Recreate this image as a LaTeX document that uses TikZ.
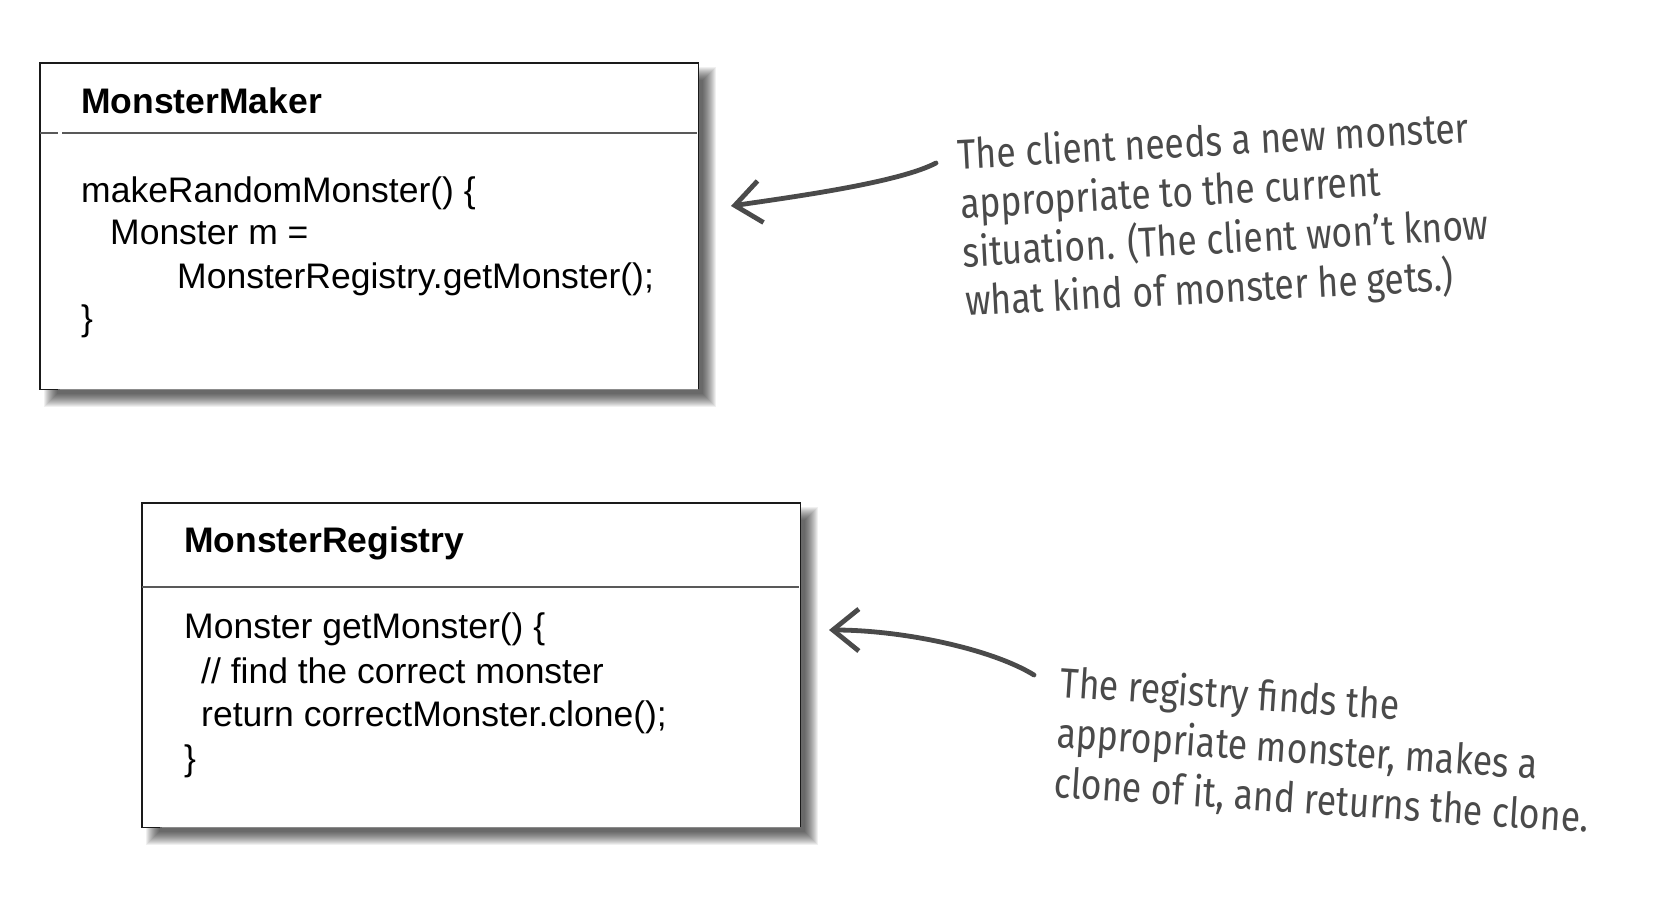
\documentclass[tikz,border=0pt]{standalone}
\usepackage{fontspec}
\setmainfont{Liberation Sans}
\newfontfamily\hand[FakeStretch=0.845]{Fira Sans}
\usetikzlibrary{arrows.meta,calc}
\definecolor{ink}{HTML}{4A4A4A}
\definecolor{edge}{HTML}{1A1A1A}
\tikzset{
 umlbox/.style={rectangle, fill=white, inner sep=0pt, anchor=north west},
 boxline/.style={draw=edge, line width=1.6pt},
 bottomline/.style={draw=black!45, line width=1.6pt},
 sepline/.style={draw=black!65, line width=1.4pt},
 code/.style={anchor=base west, inner sep=0pt, font=\fontsize{35.5}{42}\selectfont, text=black},
 title/.style={code, font=\fontsize{35.5}{42}\selectfont\bfseries},
 note/.style={anchor=base west, inner sep=0pt, align=left, text=ink},
 handarrow/.style={draw=ink, line width=4.8pt, line cap=round, line join=round, -{Straight Barb[length=26pt,width=42pt]}},
}
\begin{document}
\begin{tikzpicture}[x=1pt,y=-1pt]
\fill[white] (0,0) rectangle (1664,920);
\useasboundingbox (0,0) rectangle (1664,920);
% shadows
\foreach \r in {-6,...,7}{
  \fill[black, opacity=0.06] (40+11-\r,63+11-\r) rectangle (698+11+\r,389+11+\r);
  \fill[black, opacity=0.06] (142+11-\r,503+11-\r) rectangle (800+11+\r,827+11+\r);
}
% MonsterMaker box
\node[umlbox, minimum width=658pt, minimum height=326pt] (mm) at (40,63) {};
\draw[boxline] ($(mm.south west)+(18,0)$) -- (mm.south west) -- (mm.north west) -- (mm.north east) -- (mm.south east);
\draw[bottomline] ($(mm.south west)+(20,0)$) -- (mm.south east);
\draw[sepline] (40,133) -- (58,133) (62,133) -- (697,133);
\node[title] (mmt) at (81,114) {MonsterMaker};
\node[code] (mm1) at (81,202) {makeRandomMonster() \{};
\node[code] (mm2) at (110,244) {Monster m =};
\node[code] (mm3) at (177,288) {MonsterRegistry.getMonster();};
\node[code] (mm4) at (81,330) {\}};
% MonsterRegistry box
\node[umlbox, minimum width=658pt, minimum height=324pt] (mr) at (142,503) {};
\draw[boxline] ($(mr.south west)+(18,0)$) -- (mr.south west) -- (mr.north west) -- (mr.north east) -- (mr.south east);
\draw[bottomline] ($(mr.south west)+(20,0)$) -- (mr.south east);
\draw[sepline] (142,587) -- (799,587);
\node[title] (mrt) at (184,552) {MonsterRegistry};
\node[code] (mr1) at (184,638) {Monster getMonster() \{};
\node[code] (mr2) at (201,683) {// find the correct monster};
\node[code] (mr3) at (201,726) {return correctMonster.clone();};
\node[code] (mr4) at (184,770) {\}};
% notes (anchored at the baseline of the last line)
\node[note, rotate=3, font=\hand\fontsize{42}{49}\selectfont] (n1) at (966,316)
  {The client needs a new monster\\appropriate to the current\\situation. (The client won’t know\\what kind of monster he gets.)};
\node[note, rotate=-3.8, font=\hand\fontsize{42}{50}\selectfont] (n2) at (1053,797)
  {The registry finds the\\appropriate monster, makes a\\clone of it, and returns the clone.};
% arrows
\coordinate (a1s) at (936,163);
\coordinate (a1e) at (731,206);
\coordinate (a2s) at (1034,675);
\coordinate (a2e) at (829,630);
\draw[handarrow] (a1s) .. controls (900,182) and (800,196) .. (a1e);
\draw[handarrow] (a2s) .. controls (990,648) and (900,630) .. (a2e);
\end{tikzpicture}
\end{document}
